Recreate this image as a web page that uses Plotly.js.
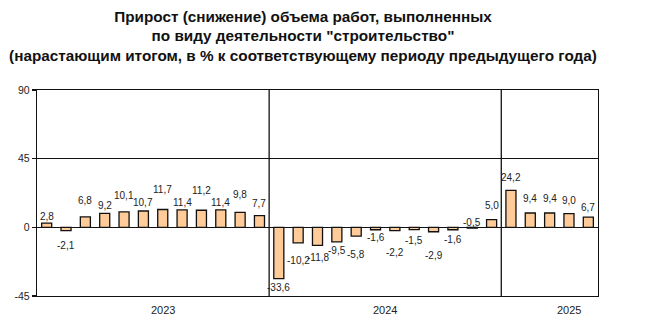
<!DOCTYPE html>
<html>
<head>
<meta charset="utf-8">
<script src="https://cdn.plot.ly/plotly-3.0.1.min.js"></script>
<style>html,body{margin:0;padding:0;background:#fff}#chart{width:656px;height:332px}</style>
</head>
<body>
<div id="chart"></div>
<script>
// Periods (cumulative, month-by-month)
const months = ['янв','янв-фев','янв-мар','янв-апр','янв-май','янв-июн','янв-июл','янв-авг','янв-сен','янв-окт','янв-ноя','янв-дек'];
const years = ['2023','2024','2025'];
const monthsPerYear = [12, 12, 5];

// Values, % (growth / decline)
const values2023 = [2.8, -2.1, 6.8, 9.2, 10.1, 10.7, 11.7, 11.4, 11.2, 11.4, 9.8, 7.7];
const values2024 = [-33.6, -10.2, -11.8, -9.5, -5.8, -1.6, -2.2, -1.5, -2.9, -1.6, -0.5, 5.0];
const values2025 = [24.2, 9.4, 9.4, 9.0, 6.7];

// Y-axis ticks
const yTicks = [-45, 0, 45, 90];

// label layout hints (pixel offsets of value labels from bar ends, + = up)
const labelShift = [7,-15,16,8,16,9,20,7,20,7,18,12,
                    -9,-18,-12,-9,-18,-8,-22,-11,-24,-10,6,14,
                    13,14,14,13,10];
const yearLabelPos = [6, 17.5, 27];

const seriesByYear = [values2023, values2024, values2025];
const cats = [], vals = [];
years.forEach((y, yi) => {
  seriesByYear[yi].forEach((v, mi) => { cats.push(months[mi] + ' ' + y); vals.push(v); });
});

const fmt = v => v.toFixed(1).replace('.', ',');

const annotations = vals.map((v, i) => ({
  x: i, y: v, xref: 'x', yref: 'y',
  text: fmt(v), showarrow: false,
  yanchor: 'middle', xanchor: 'center',
  yshift: labelShift[i],
  font: {family: 'Liberation Sans, Arial, sans-serif', size: 10, color: '#222'}
}));
years.forEach((y, yi) => {
  annotations.push({
    x: yearLabelPos[yi], y: 0, xref: 'x', yref: 'paper',
    text: y, showarrow: false, yanchor: 'middle', yshift: -14,
    font: {family: 'Liberation Sans, Arial, sans-serif', size: 11, color: '#222'}
  });
});

// year dividers
const shapes = [];
let acc = 0;
monthsPerYear.slice(0, -1).forEach(n => {
  acc += n;
  shapes.push({type: 'line', xref: 'x', yref: 'paper', x0: acc - 0.5, x1: acc - 0.5, y0: 0, y1: 1,
    line: {color: '#111', width: 1.3}});
});

const trace = {
  type: 'bar', x: cats.map((c, i) => i), y: vals,
  marker: {color: '#FFCC99', line: {color: '#111', width: 1.3}},
  hoverinfo: 'skip'
};

const layout = {
  width: 656, height: 332,
  margin: {l: 37, r: 58, t: 90, b: 36},
  paper_bgcolor: '#fff', plot_bgcolor: '#fff',
  showlegend: false,
  bargap: 0.48,
  title: {
    text: '<b>Прирост (снижение) объема работ, выполненных<br>по виду деятельности "строительство"<br>(нарастающим итогом, в % к соответствующему периоду предыдущего года)</b>',
    x: 303 / 656, xanchor: 'center', y: 0.935, yanchor: 'top',
    font: {family: 'Liberation Sans, Arial, sans-serif', size: 15.3, color: '#111'}
  },
  xaxis: {
    range: [-0.5, vals.length - 0.5],
    showticklabels: false, ticks: '', showgrid: false, zeroline: false,
    showline: true, mirror: true, linecolor: '#111', linewidth: 1.3,
    fixedrange: true
  },
  yaxis: {
    range: [-45, 90], tickvals: yTicks, ticktext: yTicks.map(String),
    ticks: 'outside', ticklen: 4, tickcolor: '#111', tickwidth: 1.2,
    showgrid: true, gridcolor: '#111', gridwidth: 1.2,
    zeroline: true, zerolinecolor: '#111', zerolinewidth: 1.3,
    showline: true, mirror: true, linecolor: '#111', linewidth: 1.3,
    tickfont: {family: 'Liberation Sans, Arial, sans-serif', size: 10.5, color: '#222'},
    fixedrange: true
  },
  annotations: annotations,
  shapes: shapes
};

Plotly.newPlot('chart', [trace], layout, {displayModeBar: false, staticPlot: true});
</script>
</body>
</html>
